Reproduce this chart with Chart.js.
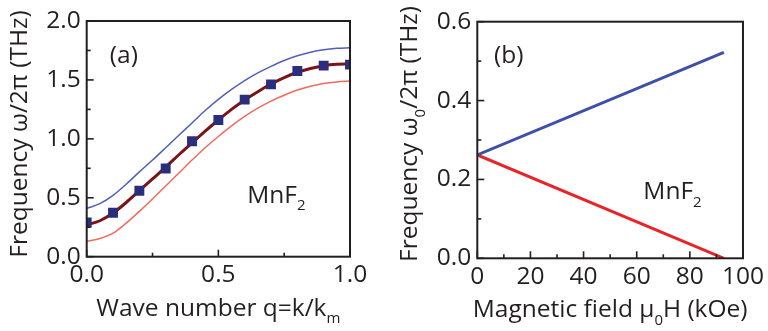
<!DOCTYPE html>
<html>
<head>
<meta charset="utf-8">
<script src="https://cdn.jsdelivr.net/npm/chart.js@4.4.0/dist/chart.umd.min.js"></script>
<style>
  html, body { margin: 0; padding: 0; background: #fff; }
  #wrap { position: relative; width: 768px; height: 331px; }
  canvas { position: absolute; top: 0; }
</style>
</head>
<body>
<div id="wrap">
  <canvas id="chartA" width="384" height="331" style="left:0"></canvas>
  <canvas id="chartB" width="384" height="331" style="left:384px"></canvas>
</div>
<script>
// ---- panel (a): dispersion vs wave number ----
const qCurve = [0, 0.05, 0.1, 0.15, 0.2, 0.25, 0.3, 0.35, 0.4, 0.45, 0.5, 0.55, 0.6, 0.65, 0.7, 0.75, 0.8, 0.85, 0.9, 0.95, 1.0];
const upperBranch  = [0.41, 0.45, 0.52, 0.615, 0.72, 0.82, 0.925, 1.03, 1.135, 1.24, 1.335, 1.42, 1.495, 1.56, 1.615, 1.665, 1.705, 1.735, 1.756, 1.768, 1.773];
const middleBranch = [0.27, 0.305, 0.37, 0.46, 0.56, 0.66, 0.76, 0.865, 0.965, 1.065, 1.16, 1.25, 1.33, 1.40, 1.465, 1.52, 1.565, 1.597, 1.62, 1.632, 1.635];
const lowerBranch  = [0.13, 0.155, 0.20, 0.285, 0.385, 0.49, 0.60, 0.71, 0.82, 0.925, 1.02, 1.11, 1.19, 1.26, 1.32, 1.37, 1.415, 1.447, 1.47, 1.483, 1.49];
const qMeasured    = [0, 0.1, 0.2, 0.3, 0.4, 0.5, 0.6, 0.7, 0.8, 0.9, 1.0];
const freqMeasured = [0.29, 0.373, 0.56, 0.749, 0.98, 1.16, 1.333, 1.462, 1.576, 1.621, 1.63];
const qTickLabels     = ['0.0', '0.5', '1.0'];
const freqTickLabelsA = ['0.0', '0.5', '1.0', '1.5', '2.0'];

// ---- panel (b): k=0 modes vs magnetic field ----
const fieldKOe   = [0, 92.8];
const modeUp     = [0.262, 0.522];
const modeDown   = [0.262, 0.0];
const fieldTickLabels = ['0', '20', '40', '60', '80', '100'];
const freqTickLabelsB = ['0.0', '0.2', '0.4', '0.6'];

const FONT = '"Open Sans", sans-serif';
const FS = 24.5;
const INK = '#231f20';

function pts(xs, ys) { return xs.map((x, i) => ({ x: x, y: ys[i] })); }

// text with subscript pieces: parts = [[text, isSub], ...]
function richText(ctx, parts, x, y, size, align) {
  const subSize = Math.round(size * 0.62);
  let total = 0;
  parts.forEach(p => {
    ctx.font = (p[1] ? subSize : size) + 'px ' + FONT;
    total += ctx.measureText(p[0]).width;
  });
  let cx = align === 'center' ? x - total / 2 : x;
  ctx.textAlign = 'left';
  ctx.textBaseline = 'alphabetic';
  parts.forEach(p => {
    ctx.font = (p[1] ? subSize : size) + 'px ' + FONT;
    ctx.fillText(p[0], cx, p[1] ? y + size * 0.3 : y);
    cx += ctx.measureText(p[0]).width;
  });
}

// box frame, inward major/minor ticks, axis titles and panel notes
const framePlugin = {
  id: 'frame',
  afterDatasetsDraw(chart, args, opts) {
    const { ctx, chartArea: a, scales } = chart;
    ctx.save();
    ctx.strokeStyle = INK;
    ctx.lineWidth = 2;
    ctx.strokeRect(a.left, a.top, a.right - a.left, a.bottom - a.top);

    ctx.lineWidth = 1.6;
    scales.x.ticks.forEach((t, i) => {
      const px = scales.x.getPixelForValue(t.value);
      const len = i % 2 === 0 ? 7 : 4;
      ctx.beginPath(); ctx.moveTo(px, a.bottom); ctx.lineTo(px, a.bottom - len); ctx.stroke();
    });
    scales.y.ticks.forEach((t, i) => {
      const py = scales.y.getPixelForValue(t.value);
      const len = i % 2 === 0 ? 7 : 4;
      ctx.beginPath(); ctx.moveTo(a.left, py); ctx.lineTo(a.left + len, py); ctx.stroke();
    });

    ctx.fillStyle = INK;
    richText(ctx, opts.xTitle, (a.left + a.right) / 2, a.bottom + 59, FS, 'center');
    ctx.save();
    ctx.translate(a.left - 60, 134);
    ctx.rotate(-Math.PI / 2);
    richText(ctx, opts.yTitle, 0, 0, FS, 'center');
    ctx.restore();
    opts.notes.forEach(n => {
      richText(ctx, n.parts, scales.x.getPixelForValue(n.x), scales.y.getPixelForValue(n.y), FS, 'left');
    });
    ctx.restore();
  }
};

function axisTicks(labels) {
  return {
    color: INK,
    font: { family: FONT, size: FS },
    autoSkip: false,
    maxRotation: 0,
    callback: (v, i) => (i % 2 === 0 ? labels[i / 2] : '')
  };
}

function makeChart(id, datasets, cfg) {
  return new Chart(document.getElementById(id), {
    type: 'scatter',
    data: { datasets: datasets },
    options: {
      responsive: false,
      animation: false,
      layout: { padding: { left: 0, right: cfg.padRight, top: cfg.padTop, bottom: 0 } },
      plugins: {
        legend: { display: false },
        tooltip: { enabled: false },
        frame: { xTitle: cfg.xTitle, yTitle: cfg.yTitle, notes: cfg.notes }
      },
      scales: {
        x: {
          type: 'linear', min: cfg.xMin, max: cfg.xMax,
          grid: { display: false, drawTicks: false },
          border: { display: false },
          ticks: Object.assign(axisTicks(cfg.xLabels), { stepSize: cfg.xStep, padding: 4 }),
          afterFit: s => { s.height = cfg.xHeight; }
        },
        y: {
          type: 'linear', min: cfg.yMin, max: cfg.yMax,
          grid: { display: false, drawTicks: false },
          border: { display: false },
          ticks: Object.assign(axisTicks(cfg.yLabels), { stepSize: cfg.yStep, padding: 6 }),
          afterFit: s => { s.width = cfg.yWidth; }
        }
      }
    },
    plugins: [framePlugin]
  });
}

makeChart('chartA', [
  {
    data: pts(qMeasured, freqMeasured), showLine: false,
    pointStyle: 'rect', pointRadius: 7, backgroundColor: '#2a2e7c', borderWidth: 0
  },
  {
    data: pts(qCurve, middleBranch), showLine: true, pointRadius: 0,
    borderColor: '#7b1416', borderWidth: 3, cubicInterpolationMode: 'monotone'
  },
  {
    data: pts(qCurve, upperBranch), showLine: true, pointRadius: 0,
    borderColor: '#4f5fba', borderWidth: 1.5, cubicInterpolationMode: 'monotone'
  },
  {
    data: pts(qCurve, lowerBranch), showLine: true, pointRadius: 0,
    borderColor: '#f26a5c', borderWidth: 1.5, cubicInterpolationMode: 'monotone'
  }
], {
  xMin: 0, xMax: 1, xStep: 0.25, xLabels: qTickLabels,
  yMin: 0, yMax: 2, yStep: 0.25, yLabels: freqTickLabelsA,
  padRight: 34, padTop: 21, yWidth: 86.7, xHeight: 74.3,
  xTitle: [['Wave number q=k/k', false], ['m', true]],
  yTitle: [['Frequency ω/2π (THz)', false]],
  notes: [
    { parts: [['(a)', false]], x: 0.088, y: 1.64 },
    { parts: [['MnF', false], ['2', true]], x: 0.61, y: 0.455 }
  ]
});

makeChart('chartB', [
  {
    data: pts(fieldKOe, modeUp), showLine: true, pointRadius: 0,
    borderColor: '#3e4fa8', borderWidth: 3
  },
  {
    data: pts(fieldKOe, modeDown), showLine: true, pointRadius: 0,
    borderColor: '#e8232a', borderWidth: 3
  }
], {
  xMin: 0, xMax: 100, xStep: 10, xLabels: fieldTickLabels,
  yMin: 0, yMax: 0.6, yStep: 0.1, yLabels: freqTickLabelsB,
  padRight: 24, padTop: 21.7, yWidth: 93.3, xHeight: 72.7,
  xTitle: [['Magnetic field μ', false], ['0', true], ['H (kOe)', false]],
  yTitle: [['Frequency ω', false], ['0', true], ['/2π (THz)', false]],
  notes: [
    { parts: [['(b)', false]], x: 6.3, y: 0.495 },
    { parts: [['MnF', false], ['2', true]], x: 62.5, y: 0.15 }
  ]
});
</script>
</body>
</html>
